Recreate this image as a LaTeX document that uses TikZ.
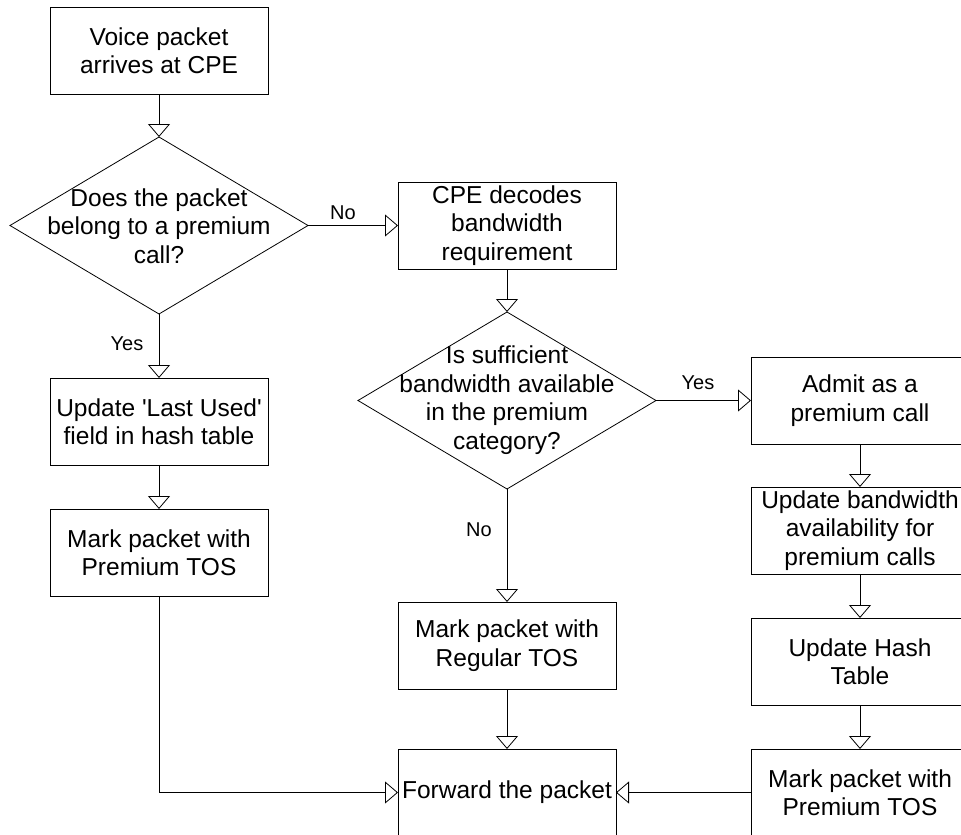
\documentclass[tikz,border=0pt]{standalone}
\usepackage{fontspec}
\setmainfont{Liberation Sans}
\usetikzlibrary{arrows.meta,shapes.geometric}
\begin{document}
\begin{tikzpicture}[x=1pt,y=-1pt,
  every node/.style={inner sep=0pt, outer sep=0pt},
  box/.style={draw, line width=0.8pt, minimum width=218pt, minimum height=87pt,
    align=center, font=\fontsize{24.5}{28.5}\selectfont},
  decision/.style={draw, diamond, line width=0.8pt, minimum width=298pt, minimum height=177pt},
  dtext/.style={align=center, font=\fontsize{24.5}{28.5}\selectfont},
  lbl/.style={font=\fontsize{20}{22}\selectfont},
  flow/.style={draw, line width=0.8pt, -{Triangle[open, length=13pt, width=22pt]}}
]
\useasboundingbox (0,0) rectangle (961,835);
\clip (0,0) rectangle (961,835);

% left column
\node[box] (start) at (159,50.5) {Voice packet\\arrives at CPE};
\node[decision] (d1) at (159,225.5) {};
\node[dtext] (d1t) at (159,226) {Does the packet\\belong to a premium\\call?};
\node[box] (upd) at (159,421.5) {Update \textquotesingle Last Used\textquotesingle\\field in hash table};
\node[box] (markP) at (159,552.5) {Mark packet with\\Premium TOS};

% middle column
\node[box] (decode) at (507,225.5) {CPE decodes\\bandwidth\\requirement};
\node[decision] (d2) at (507,400.5) {};
\node[dtext] (d2t) at (507,400) {Is sufficient\\bandwidth available\\in the premium\\category?};
\node[box] (markR) at (507,645.5) {Mark packet with\\Regular TOS};
\node[box] (fwd) at (507,792.5) {Forward the packet};

% right column
\node[box] (admit) at (860,400.5) {Admit as a\\premium call};
\node[box] (updbw) at (860,530.5) {Update bandwidth\\availability for\\premium calls};
\node[box] (hash) at (860,661.5) {Update Hash\\Table};
\node[box] (markP2) at (860,792.5) {Mark packet with\\Premium TOS};

% connectors
\draw[flow] (start.south) -- (d1.north);
\draw[flow] (d1.east) -- (decode.west);
\draw[flow] (d1.south) -- (upd.north);
\draw[flow] (upd.south) -- (markP.north);
\draw[flow] (markP.south) |- (fwd.west);
\draw[flow] (decode.south) -- (d2.north);
\draw[flow] (d2.east) -- (admit.west);
\draw[flow] (d2.south) -- (markR.north);
\draw[flow] (markR.south) -- (fwd.north);
\draw[flow] (admit.south) -- (updbw.north);
\draw[flow] (updbw.south) -- (hash.north);
\draw[flow] (hash.south) -- (markP2.north);
\draw[flow] (markP2.west) -- (fwd.east);

% branch labels
\node[lbl] (no1) at (343,213) {No};
\node[lbl] (yes1) at (127,344) {Yes};
\node[lbl] (yes2) at (698,383) {Yes};
\node[lbl] (no2) at (479,530) {No};
\end{tikzpicture}
\end{document}
